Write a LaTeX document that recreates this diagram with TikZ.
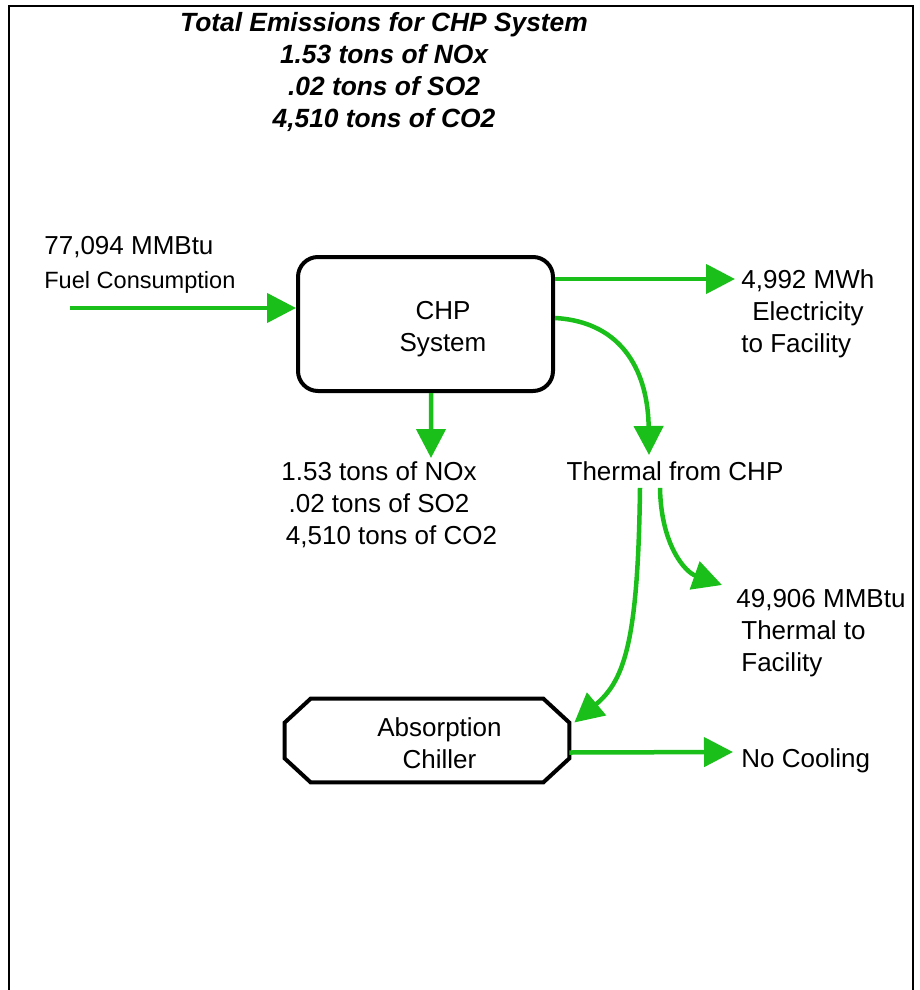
\documentclass[tikz,border=0pt]{standalone}
\usepackage{fontspec}
\setmainfont{Liberation Sans}
\usetikzlibrary{arrows.meta, calc}

\definecolor{flowgreen}{RGB}{26,191,26}

\begin{document}
\begin{tikzpicture}[
  x=0.2mm, y=-0.2mm,
  font=\fontsize{14.8}{18.2}\selectfont,
  box/.style   ={draw, line width=0.8mm, rounded corners=4mm, align=center,
                 minimum width=51mm, minimum height=26.8mm},
  chill/.style ={align=center, minimum width=56.8mm, minimum height=16.6mm},
  outline/.style={line width=0.8mm},
  lbl/.style   ={align=left, inner sep=0pt},
  head/.style  ={align=center, inner sep=0pt,
                 font=\fontsize{15}{18.2}\selectfont\bfseries\itshape},
  arr/.style   ={-{Triangle[length=5.8mm, width=5.8mm]}, line width=0.9mm, flowgreen},
]
\useasboundingbox (0,0) rectangle (919,990);

% ================= frame and heading =================
\draw[line width=0.4mm] (9,990) -- (9,6) -- (913,6) -- (913,990);
\node[head] (total) at (384,72)
  {Total Emissions for CHP System\\1.53 tons of NOx\\.02 tons of SO2\\4,510 tons of CO2};

% ================= CHP unit with fuel in, power out =================
\node[box] (chp) at (425.5,324)
  {\rule{0pt}{16.3pt}\hspace*{7mm}CHP\\\hspace*{7mm}System};

\node[lbl, anchor=west] (fuel) at (44,265)
  {77,094 MMBtu\\[1pt]{\fontsize{13.4}{16}\selectfont Fuel Consumption}};
\coordinate (fuelin) at (70,308);
\draw[arr] (fuelin) -- (fuelin -| chp.west);

\node[lbl, anchor=west] (elec) at (741,314)
  {4,992 MWh\\\hspace*{2.2mm}Electricity\\to Facility};
\coordinate (eltip) at (735,279);
\draw[arr] ($(chp.east)+(0,-45)$) -- (eltip);

% emissions leave the bottom of the unit
\node[lbl, align=center] (emis) at (379,505)
  {1.53 tons of NOx\\.02 tons of SO2\\\hspace*{5mm}4,510 tons of CO2};
\coordinate (emtip) at (431,458);
\draw[arr] ($(chp.south)+(5.5,0)$) -- (emtip);

% ================= recovered heat =================
\node[lbl] (thermal) at (675,471) {Thermal from CHP};
\coordinate (thtip) at (649,455);
\draw[arr] ($(chp.east)+(0,-6)$) .. controls (625,322) and (648,375) .. (thtip);

\node[lbl, anchor=west] (facility) at (736,633)
  {49,906 MMBtu\\\hspace*{1mm}Thermal to\\\hspace*{1mm}Facility};
\coordinate (fctip) at (722,585);
\draw[arr] ($(thermal.south)+(-15,7)$) .. controls (661,545) and (685,572) .. (fctip);

% ================= chiller branch =================
\node[chill] (chiller) at (427,740.5)
  {\rule{0pt}{14pt}\hspace*{5mm}Absorption\\\hspace*{5mm}Chiller};
\draw[outline] ($(chiller.north west)+(26,0)$) -- ($(chiller.north east)+(-26,0)$)
  -- ($(chiller.north east)+(0,24)$) -- ($(chiller.south east)+(0,-24)$)
  -- ($(chiller.south east)+(-26,0)$) -- ($(chiller.south west)+(26,0)$)
  -- ($(chiller.south west)+(0,-24)$) -- ($(chiller.north west)+(0,24)$) -- cycle;
\draw[arr] ($(thermal.south)+(-35,7)$) .. controls (638,640) and (625,680)
  .. ($(chiller.east)+(5,-18)$);

\node[lbl, anchor=west] (cool) at (741,761) {No Cooling};
\coordinate (cooltip) at (733,752);
\draw[arr] ($(chiller.east)+(0,12)$) -- (cooltip);

\end{tikzpicture}
\end{document}
